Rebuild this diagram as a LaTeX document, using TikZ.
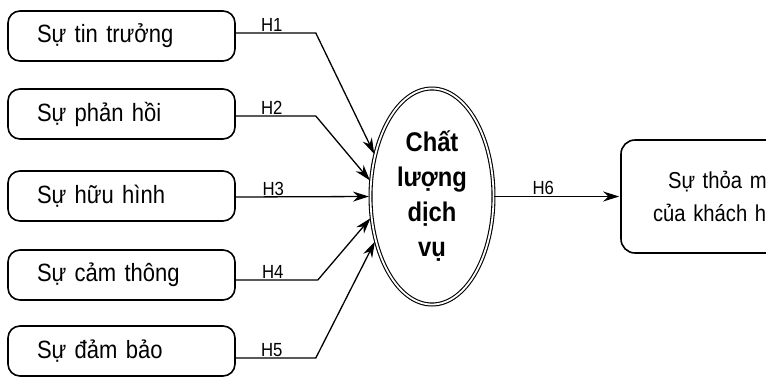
\documentclass[tikz,border=0pt]{standalone}
\usepackage{fontspec}
\setmainfont[FakeStretch=0.88]{Liberation Sans}
\usetikzlibrary{arrows.meta,shapes.geometric}
\begin{document}
\begin{tikzpicture}[x=1pt,y=-1pt,
  factor/.style={draw,line width=1.6pt,rounded corners=12pt,minimum width=227pt,minimum height=50pt,inner xsep=29pt,text width=169pt,align=left,font=\fontsize{25}{30}\selectfont},
  conn/.style={line width=1.3pt,shorten >=1pt,-{Stealth[length=16pt,width=10pt]}},
  hlab/.style={above,inner sep=1pt,font=\fontsize{19}{20}\selectfont},
]
\useasboundingbox (0,0) rectangle (766,381);
\clip (0,0) rectangle (766,381);
\node[factor] (b1) at (121.5,36) {Sự tin trưởng};
\node[factor] (b2) at (121.5,114) {Sự phản hồi};
\node[factor] (b3) at (121.5,196) {Sự hữu hình};
\node[factor] (b4) at (121.5,275) {Sự cảm thông};
\node[factor] (b5) at (121.5,351) {Sự đảm bảo};
\node[ellipse,draw,double,line width=1.1pt,double distance=1.8pt,minimum width=123pt,minimum height=216pt,inner sep=0pt,align=center,font=\bfseries\fontsize{27}{35}\selectfont] (ell) at (432,196.5) {Chất\\lượng\\dịch\\vụ};
\node[draw,line width=1.6pt,rounded corners=14pt,minimum width=206pt,minimum height=113pt,inner xsep=32pt,text width=142pt,align=left,font=\fontsize{23}{33}\selectfont] (rb) at (724,196.5) {\hspace*{15pt}Sự thỏa m\\của khách h};
\draw[conn] ([yshift=3pt]b1.east) -- ++(80,0) node[hlab,pos=0.45]{H1} -- (ell.144);
\draw[conn] ([yshift=-2pt]b2.east) -- ++(80,0) node[hlab,pos=0.45]{H2} -- (ell.166);
\draw[conn] ([yshift=-1pt]b3.east) -- node[hlab,pos=0.28]{H3} (ell.180);
\draw[conn] ([yshift=-5pt]b4.east) -- ++(82,0) node[hlab,pos=0.45]{H4} -- (ell.199);
\draw[conn] ([yshift=-7pt]b5.east) -- ++(80,0) node[hlab,pos=0.45]{H5} -- (ell.218);
\draw[conn] (ell.east) -- node[hlab,pos=0.39]{H6} (rb.west);
\end{tikzpicture}
\end{document}
